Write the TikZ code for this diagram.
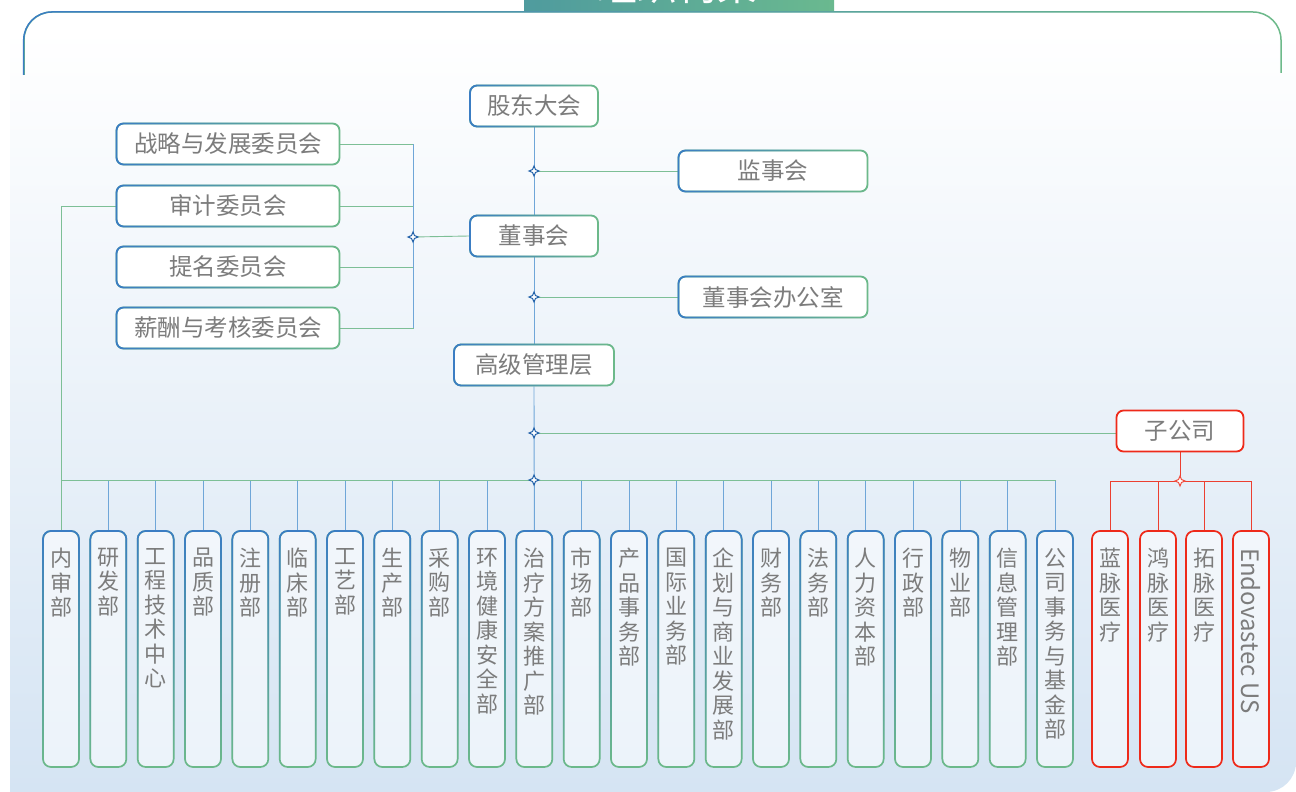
\documentclass[tikz,border=0pt]{standalone}
\usepackage{fontspec}
\setmainfont{Noto Sans CJK SC}
\usetikzlibrary{fadings,shapes.geometric,shadows}
\definecolor{cblue}{HTML}{3B7DC4}
\definecolor{cgreen}{HTML}{6DBA8A}
\definecolor{txt}{HTML}{7C7C7C}
\definecolor{bgblue}{HTML}{D5E4F3}
\definecolor{lineb}{HTML}{6FA6D8}
\definecolor{lineg}{HTML}{7DBF96}
\definecolor{mark}{HTML}{1F5FA8}
\definecolor{cred}{HTML}{EE2A1A}
\definecolor{redline}{HTML}{EC3F30}
\definecolor{tealA}{HTML}{4F9B9E}
\definecolor{tealB}{HTML}{6AB98F}
\pgfdeclarelayer{panel}
\pgfdeclarelayer{lines}
\pgfsetlayers{panel,lines,main}
\begin{document}
\begin{tikzpicture}[x=1pt,y=-1pt,
  hbase/.style={rectangle, rounded corners=7pt, line width=1.8pt, fill=white,
    text=txt, font=\fontsize{23.5}{26}\selectfont, minimum height=41pt, inner sep=0pt},
  hbox/.style={hbase, draw=cgreen, drop shadow={shadow xshift=0.6pt, shadow yshift=-0.8pt, opacity=0.12},
    postaction={draw=cblue, line width=1.8pt, path fading=east}},
  rbox/.style={hbase, draw=cred},
  vbase/.style={rectangle, rounded corners=8pt, line width=1.7pt, fill=white, fill opacity=0.55,
    minimum width=36pt, minimum height=236pt, inner sep=0pt},
  vbox/.style={vbase, draw=cgreen, postaction={draw=cblue, line width=1.7pt, path fading=south}},
  vrbox/.style={vbase, draw=cred},
  vtext/.style={anchor=north, align=center, inner sep=0pt, text=txt, font=\fontsize{22}{24.5}\selectfont},
  vl/.style={draw=lineb, line width=0.9pt},
  hl/.style={draw=lineg, line width=0.9pt},
  rl/.style={draw=redline, line width=1pt},
  marker/.style={star, star points=4, star point ratio=2.4, minimum size=10pt, inner sep=0pt,
    draw=mark, fill=white, line width=1pt},
  rmarker/.style={marker, draw=cred!85}
]
\useasboundingbox (0,0) rectangle (1296,792);
\begin{pgfonlayer}{panel}
% background panel
\shade[top color=white, bottom color=bgblue] (10,30) -- (1296,30) [rounded corners=30pt]-- (1296,792) [sharp corners]-- (10,792) -- cycle;
% frame line
\draw[rounded corners=28pt, draw=cgreen, line width=1.5pt, postaction={draw=cblue, line width=1.5pt, path fading=east}]
  (24,75) -- (24,12) -- (1281,12) -- (1281,73);
% title box
\begin{scope}
\clip (0,0) rectangle (1296,792);
\shade[left color=tealA, right color=tealB] (524,-5) rectangle (834,11);
\node[anchor=base, text=white, inner sep=0pt, font=\fontsize{40}{40}\selectfont] (title) at (677,0.5) {组织构架};
\end{scope}
\end{pgfonlayer}

% top nodes
\node[hbox, minimum width=128pt] (gd) at (534,106) {股东大会};
\node[hbox, minimum width=189pt] (js) at (773,171) {监事会};
\node[hbox, minimum width=128pt] (ds) at (534,236) {董事会};
\node[hbox, minimum width=189pt] (bgs) at (773,297) {董事会办公室};
\node[hbox, minimum width=160pt] (gj) at (534,365) {高级管理层};
\node[rbox, minimum width=127pt] (zgs) at (1180,431) {子公司};
\node[hbox, minimum width=223pt] (c1) at (228,144) {战略与发展委员会};
\node[hbox, minimum width=223pt] (c2) at (228,206) {审计委员会};
\node[hbox, minimum width=223pt] (c3) at (228,267) {提名委员会};
\node[hbox, minimum width=223pt] (c4) at (228,328) {薪酬与考核委员会};

% junction coordinates
\coordinate (m0) at (413,237);
\coordinate (m1) at (534,171);
\coordinate (m2) at (534,297);
\coordinate (m3) at (534,433);
\coordinate (m4) at (534,480);
\coordinate (rm) at (1180,481);
\coordinate (busL) at (62,480);
\coordinate (busR) at (1056,480);

% department boxes
\foreach \i/\t in {0/内\\审\\部, 1/研\\发\\部, 2/工\\程\\技\\术\\中\\心, 3/品\\质\\部, 4/注\\册\\部,
  5/临\\床\\部, 6/工\\艺\\部, 7/生\\产\\部, 8/采\\购\\部, 9/环\\境\\健\\康\\安\\全\\部,
  10/治\\疗\\方\\案\\推\\广\\部, 11/市\\场\\部, 12/产\\品\\事\\务\\部, 13/国\\际\\业\\务\\部,
  14/企\\划\\与\\商\\业\\发\\展\\部, 15/财\\务\\部, 16/法\\务\\部, 17/人\\力\\资\\本\\部,
  18/行\\政\\部, 19/物\\业\\部, 20/信\\息\\管\\理\\部, 21/公\\司\\事\\务\\与\\基\\金\\部}{
  \pgfmathsetmacro\xx{61+47.333*\i}
  \node[vbox] (d\i) at (\xx,649) {};
  \node[vtext] (t\i) at (\xx,548) {\t};
  \begin{pgfonlayer}{lines}
  \draw[vl] (d\i.north |- busL) -- (d\i.north);
  \end{pgfonlayer}
}
% subsidiaries
\node[vrbox] (r1) at (1110,649) {};
\node[vtext] (rt1) at (1110,548) {蓝\\脉\\医\\疗};
\node[vrbox] (r2) at (1158,649) {};
\node[vtext] (rt2) at (1158,548) {鸿\\脉\\医\\疗};
\node[vrbox] (r3) at (1204,649) {};
\node[vtext] (rt3) at (1204,548) {拓\\脉\\医\\疗};
\node[vrbox] (r4) at (1251,649) {};
\node[anchor=west, rotate=-90, inner sep=0pt, text=txt, font=\fontsize{24}{26}\selectfont] (rt4) at (1251,548) {Endovastec US};

% connectors
\begin{pgfonlayer}{lines}
\draw[vl] (gd.south) -- (ds.north);
\draw[hl] (m1) -- (js.west);
\draw[vl] (ds.south) -- (gj.north);
\draw[hl] (m2) -- (bgs.west);
\draw[vl] (gj.south) -- (d10.north);
\draw[hl] (m3) -- (m3 -| zgs.west);
\draw[hl] (busL) -- (busR);
\draw[hl] (c1.east) -- (c1.east -| m0) -- (c4.east -| m0) -- (c4.east);
\draw[hl] (c2.east) -- (c2.east -| m0);
\draw[hl] (c3.east) -- (c3.east -| m0);
\draw[vl] (m0 |- c1.east) -- (m0 |- c4.east);
\draw[hl] (m0) -- (ds.west);
\draw[hl] (c2.west) -| (d0.north);
% red
\draw[rl] (zgs.south) -- (rm);
\draw[rl] (r1.north |- rm) -- (r4.north |- rm);
\draw[rl] (r1.north |- rm) -- (r1.north);
\draw[rl] (r2.north |- rm) -- (r2.north);
\draw[rl] (r3.north |- rm) -- (r3.north);
\draw[rl] (r4.north |- rm) -- (r4.north);
\end{pgfonlayer}

% markers
\node[marker] (mk0) at (m0) {};
\node[marker] (mk1) at (m1) {};
\node[marker] (mk2) at (m2) {};
\node[marker] (mk3) at (m3) {};
\node[marker] (mk4) at (m4) {};
\node[rmarker] (mkr) at (rm) {};
\end{tikzpicture}
\end{document}
